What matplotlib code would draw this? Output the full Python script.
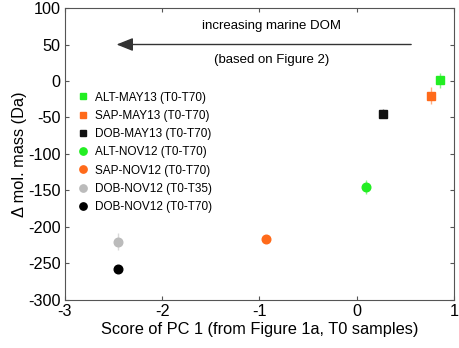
import matplotlib

matplotlib.use("Agg")

import matplotlib.pyplot as plt

plt.rcParams["font.family"] = ["Liberation Sans", "DejaVu Sans"]
plt.rcParams["axes.unicode_minus"] = False

# Datos
labels = [
    "ALT-MAY13 (T0-T70)",
    "SAP-MAY13 (T0-T70)",
    "DOB-MAY13 (T0-T70)",
    "ALT-NOV12 (T0-T70)",
    "SAP-NOV12 (T0-T70)",
    "DOB-NOV12 (T0-T35)",
    "DOB-NOV12 (T0-T70)",
]
pc1 = [0.86, 0.76, 0.27, 0.10, -0.93, -2.45, -2.45]
dmass = [1, -20, -45, -145, -217, -220, -258]
err = [10, 12, 6, 10, 3, 12, 3]
markers = ["s", "s", "s", "o", "o", "o", "o"]
colors = ["#22ee22", "#ff6a1a", "#111111", "#22ee22", "#ff6a1a", "#bbbbbb", "#000000"]

fig = plt.figure(figsize=(4.59, 3.48), dpi=100)
ax = fig.add_axes([0.1416, 0.138, 0.8474, 0.839])

for x, y, e, m, c in zip(pc1, dmass, err, markers, colors):
    ax.errorbar(x, y, yerr=e, fmt="none", ecolor=c, elinewidth=1.0, alpha=0.55, capsize=0)

handles = []
for x, y, m, c, lab in zip(pc1, dmass, markers, colors, labels):
    ms = 5.5 if m == "s" else 6.2
    h, = ax.plot(x, y, linestyle="none", marker=m, markersize=ms, color=c,
                 markeredgecolor=c, label=lab, zorder=3)
    handles.append(h)

leg = ax.legend(handles=handles, loc="upper left", bbox_to_anchor=(0.014, 0.742),
                frameon=False, fontsize=8.5, handlelength=0.8, handletextpad=0.6,
                labelspacing=0.53, borderaxespad=0.3, markerscale=0.85)

# Flecha y textos
ax.annotate("", xy=(-2.47, 50), xytext=(0.56, 50),
            arrowprops=dict(arrowstyle="-|>,head_length=1.0,head_width=0.4",
                            lw=1.0, color="#333333", shrinkA=0, shrinkB=0))
ax.text(-0.88, 75, "increasing marine DOM", ha="center", va="center", fontsize=9.5)
ax.text(-0.88, 29, "(based on Figure 2)", ha="center", va="center", fontsize=9.5)

ax.set_xlim(-3, 1)
ax.set_ylim(-300, 100)
ax.set_xticks([-3, -2, -1, 0, 1])
ax.set_yticks(range(-300, 101, 50))
ax.tick_params(direction="in", top=True, right=True, labelsize=11.7, length=3,
               color="#555555", pad=3)
for s in ax.spines.values():
    s.set_color("#555555")
    s.set_linewidth(0.8)

ax.set_xlabel("Score of PC 1 (from Figure 1a, T0 samples)", fontsize=11.8, labelpad=2)
ax.set_ylabel("\u0394 mol. mass (Da)", fontsize=11.8, labelpad=1)

fig.savefig("out.png", dpi=100)
plt.close(fig)
